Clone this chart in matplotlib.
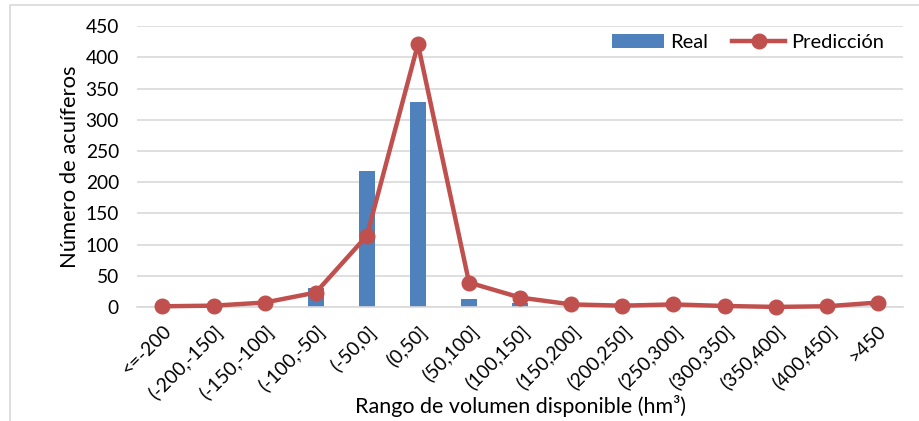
import matplotlib
matplotlib.use("Agg")
import matplotlib.pyplot as plt
from matplotlib.patches import Rectangle

plt.rcParams['font.family'] = ['Lato', 'DejaVu Sans']

rangos = ["<=-200", "(-200,-150]", "(-150,-100]", "(-100,-50]", "(-50,0]",
          "(0,50]", "(50,100]", "(100,150]", "(150,200]", "(200,250]",
          "(250,300]", "(300,350]", "(350,400]", "(400,450]", ">450"]
real = [3, 1, 1, 30, 218, 328, 13, 6, 1, 1, 1, 0, 0, 1, 3]
prediccion = [1, 2, 7, 23, 114, 421, 39, 15, 4, 2, 4, 1.5, 0, 1, 7]

azul = "#4f81bd"
rojo = "#c0504d"
gris = "#d9d9d9"

fig = plt.figure(figsize=(9.19, 4.21), dpi=100)
ax = fig.add_axes([0.149, 0.271, 0.834, 0.667])

# marco del area del grafico
fig.patches.append(Rectangle((10 / 919, -0.1), 1.2, 1 - 5 / 421 + 0.1,
                             transform=fig.transFigure, fill=False,
                             edgecolor=gris, linewidth=1.2, zorder=0))

x = list(range(len(rangos)))
barras = ax.bar(x, real, width=0.31, color=azul, label="Real", zorder=2)
linea, = ax.plot(x, prediccion, color=rojo, linewidth=3.2, marker="o",
                 markersize=10.5, label="Predicción", zorder=3, clip_on=False)

ax.set_xlim(-0.5, len(rangos) - 0.5)
ax.set_ylim(0, 450)
ax.set_yticks(range(0, 451, 50))
ax.yaxis.grid(True, color=gris, linewidth=1.2, zorder=0)
ax.set_axisbelow(True)
for s in ["top", "right", "left"]:
    ax.spines[s].set_visible(False)
ax.spines["bottom"].set_color(gris)
ax.spines["bottom"].set_linewidth(1.2)
ax.tick_params(axis="both", length=0, labelsize=13.8, colors="black")
ax.tick_params(axis="y", pad=13)
ax.set_xticks(x)
ax.set_xticklabels(rangos, rotation=45, ha="right", rotation_mode="anchor")
ax.tick_params(axis="x", pad=11)

ax.set_ylabel("Número de acuíferos", fontsize=15.8, labelpad=4)
ax.set_xlabel("Rango de volumen disponible (hm³)", fontsize=15.5, labelpad=-6)

ax.legend([barras, linea], ["Real", "Predicción"], loc="center right",
          bbox_to_anchor=(0.985, 0.94), ncol=2, frameon=False,
          fontsize=14.5, handlelength=2.6, handletextpad=0.3,
          columnspacing=1.2, borderaxespad=0)

fig.savefig("out.png", dpi=100)
